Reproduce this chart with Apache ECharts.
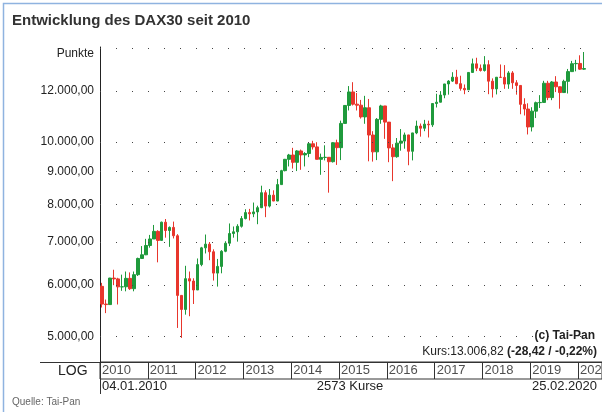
<!DOCTYPE html><html><head><meta charset="utf-8">
<script src="https://cdn.jsdelivr.net/npm/echarts@6/dist/echarts.min.js"></script>
<style>html,body{margin:0;padding:0;background:#fff}#c{width:602px;height:412px}</style></head><body><div id="c"></div>
<script>
const firstOpen = 5975;
const closes = [5608,5598,6154,6136,5964,5966,6148,5925,6229,6601,6688,6914,
7077,7272,7041,7514,7294,7376,7159,5785,5502,6141,6089,5898,
6458,6856,6947,6761,6264,6416,6772,6970,7216,7260,7405,7612,
7776,7742,7795,7914,8349,7959,8276,8104,8594,9033,9406,9552,
9306,9692,9556,9603,9943,9833,9407,9470,9474,9326,9981,9806,
10694,11402,11966,11454,11413,10945,11309,10259,9660,10850,11382,10743,
9798,9495,9966,10039,10263,9680,10337,10593,10511,10665,10640,11481,
11535,11834,12313,12438,12615,12325,12118,12056,12829,13230,13024,12918,
13189,12436,12097,12612,12605,12306,12806,12364,12247,11447,11257,10559,
11173,11516,11526,12344,11727,12399,12189,11939,12428,12867,13236,13249,
12982,13007];
const highs = [6050,5700,6160,6340,6160,6230,6300,6280,6300,6620,6900,7080,
7180,7440,7300,7530,7600,7400,7530,7200,5780,6430,6300,6150,
6600,6880,7190,7000,6820,6590,6800,7020,7480,7400,7460,7680,
7870,7880,8060,7970,8560,8420,8460,8420,8770,9060,9420,9590,
9800,9720,9740,9650,10000,10050,10000,9600,9890,9460,10000,10090,
10800,11400,12220,12390,11920,11630,11800,11670,10400,10900,11430,11290,
10490,9930,10150,10480,10350,10200,10340,10800,10690,10830,10800,11480,
11890,12000,12310,12480,12840,12950,12680,12290,12830,13480,13520,13200,
13600,13400,12560,12600,13200,13170,12890,12890,12480,12250,11700,11490,
11330,11560,11830,12450,12450,12440,12660,12170,12500,12990,13370,13420,
13640,13800];
const lows = [5540,5430,5600,6000,5600,5880,5870,5900,5870,6200,6590,6680,
6860,7120,6510,7040,7110,6880,7090,5150,4970,5400,5370,5610,
5900,6420,6720,6560,6100,5970,6260,6750,6900,7110,7010,7370,
7590,7560,7650,7460,7900,7650,7920,8100,8100,8590,9010,9170,
9100,9020,9060,9170,9480,9740,9400,8900,9370,8350,9300,9220,
9380,10690,11200,11400,11200,10880,10680,9340,9330,9380,10680,10120,
9310,8700,9460,9700,9770,9210,9370,10290,10200,10400,10170,10560,
11320,11570,11700,11850,12400,12300,12020,11870,12070,12830,12890,12870,
12870,11870,11730,11860,12600,12100,12100,12100,11850,11050,11000,10280,
10390,10900,11300,11570,11620,11620,11960,11270,11920,11900,12890,12880,
12950,12950];
const years = ['2010','2011','2012','2013','2014','2015','2016','2017','2018','2019','2020'];
const yTicks = [5000,6000,7000,8000,9000,10000,12000];
const yMin = 4560, yMax = 14050;

const months = closes.map((_, i) => years[Math.floor(i/12)] + '-' + (i%12+1));
const ohlc = closes.map((c, i) => [i === 0 ? firstOpen : closes[i-1], c, lows[i], highs[i]]);
const fmt = v => v.toLocaleString('de-DE', {minimumFractionDigits:2, maximumFractionDigits:2});
const ft = 'Liberation Sans, Arial, sans-serif';

const chart = echarts.init(document.getElementById('c'));
chart.setOption({
  animation:false,
  textStyle:{fontFamily:ft},
  grid:[{left:100, top:47, width:486, height:315},
        {left:100, top:362, right:0, height:17, show:true, borderColor:'#333', borderWidth:1}],
  xAxis:[{type:'category', data:months, gridIndex:0, boundaryGap:true,
          axisLine:{show:false}, axisTick:{show:false}, axisLabel:{show:false}},
         {type:'value', gridIndex:1, min:0, max:126, interval:12,
          axisLine:{show:false}, axisTick:{show:false}, axisLabel:{show:false},
          splitLine:{show:true, lineStyle:{color:'#333', width:1}}}],
  yAxis:[{type:'log', min:yMin, max:yMax, gridIndex:0,
          axisLine:{show:true, lineStyle:{color:'#222'}}, axisTick:{show:false},
          axisLabel:{show:false}, splitLine:{show:false}},
         {type:'value', min:0, max:1, gridIndex:1, show:false}],
  series:[{
    type:'candlestick', data:ohlc, barWidth:3,
    itemStyle:{color:'#1f9a3c', color0:'#e8362c', borderColor:'#1f9a3c', borderColor0:'#e8362c', borderWidth:1},
    markLine:{symbol:'none', silent:true,
      lineStyle:{type:[1,15], color:'#444', width:1},
      label:{position:'start', color:'#222', fontSize:12, fontFamily:ft, distance:6,
             formatter:p => p.name === 'Punkte' ? 'Punkte' : fmt(p.value)},
      data: yTicks.map(v => ({yAxis:v, name:''})).concat([{yAxis:yMax*0.995, name:'Punkte', label:{offset:[0,5]}}])}
  },{
    type:'scatter', xAxisIndex:1, yAxisIndex:1, symbolSize:0,
    data: years.map((y,i) => ({value:[i*12, 0.5], name:y})),
    label:{show:true, position:'right', distance:2, formatter:p=>p.name, color:'#222', fontSize:13, fontFamily:ft}
  }],
  graphic:[
    {type:'rect', shape:{x:3.5,y:3.5,width:620,height:420}, style:{fill:null, stroke:'#8fb3e0', lineWidth:1.5}},
    {type:'text', left:12, top:13, style:{text:'Entwicklung des DAX30 seit 2010', font:'bold 15px '+ft, fill:'#333'}},
    {type:'line', shape:{x1:40,y1:362.5,x2:602,y2:362.5}, style:{stroke:'#333', lineWidth:1}},
    {type:'line', shape:{x1:100.5,y1:379,x2:100.5,y2:394}, style:{stroke:'#333', lineWidth:1}},
    {type:'text', x:58, y:364, style:{text:'LOG', font:'14px '+ft, fill:'#222'}},
    {type:'text', x:102, y:380, style:{text:'04.01.2010', font:'13px '+ft, fill:'#222'}},
    {type:'text', x:350, y:380, style:{text:'2573 Kurse', font:'13px '+ft, fill:'#222', align:'center'}},
    {type:'text', x:597, y:380, style:{text:'25.02.2020', font:'13px '+ft, fill:'#222', align:'right'}},
    {type:'text', x:595, y:330, style:{text:'(c) Tai-Pan', font:'bold 12px '+ft, fill:'#222', align:'right'}},
    {type:'text', x:597, y:346, style:{text:'{a|Kurs:13.006,82 }{b|(-28,42 / -0,22%)}', align:'right',
      rich:{a:{font:'12px '+ft, fill:'#222'}, b:{font:'bold 12px '+ft, fill:'#222'}}}},
    {type:'text', x:12, y:397, style:{text:'Quelle: Tai-Pan', font:'10px '+ft, fill:'#666'}}
  ]
});
</script></body></html>
